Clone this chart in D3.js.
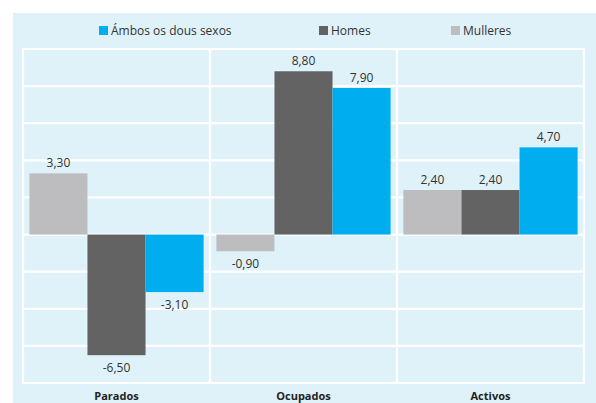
<!DOCTYPE html>
<meta charset="utf-8">
<style>
body { margin: 0; background: #fff; }
text { font-family: "Open Sans", "DejaVu Sans", sans-serif; }
</style>
<body>
<script src="https://cdn.jsdelivr.net/npm/d3@7"></script>
<script>
var categories = ["Parados", "Ocupados", "Activos"],
    series = ["Mulleres", "Homes", "Ámbos os dous sexos"],
    legendOrder = ["Ámbos os dous sexos", "Homes", "Mulleres"],
    mulleres = [3.30, -0.90, 2.40],
    homes = [-6.50, 8.80, 2.40],
    ambos = [-3.10, 7.90, 4.70],
    yTicks = [-8, -6, -4, -2, 0, 2, 4, 6, 8, 10];

var colors = {"Ámbos os dous sexos": "#00aeef", "Homes": "#636363", "Mulleres": "#bdbdc0"};
var values = {"Mulleres": mulleres, "Homes": homes, "Ámbos os dous sexos": ambos};

var width = 596, height = 403;
var plot = {left: 23, right: 584, top: 49, bottom: 383};

var svg = d3.select("body").append("svg")
    .attr("width", width)
    .attr("height", height);

// panel background
svg.append("rect")
    .attr("x", 13).attr("y", 13)
    .attr("width", width - 13).attr("height", height - 13)
    .attr("fill", "#dff2fa");

var x = d3.scaleBand().domain(categories).range([plot.left, plot.right]).padding(0);
var xs = d3.scaleBand().domain(series).range([0, x.bandwidth()]).paddingInner(0).paddingOuter(0.11);
var y = d3.scaleLinear().domain([-8, 10]).range([plot.bottom, plot.top]);

// grid
var grid = svg.append("g").attr("stroke", "#fff").attr("stroke-width", 2.2);
grid.selectAll("line.h").data(yTicks)
    .enter().append("line")
    .attr("x1", plot.left).attr("x2", plot.right)
    .attr("y1", function(d) { return y(d); })
    .attr("y2", function(d) { return y(d); });
grid.selectAll("line.v").data(categories.concat(["end"]))
    .enter().append("line")
    .attr("x1", function(d) { return d == "end" ? plot.right : x(d); })
    .attr("x2", function(d) { return d == "end" ? plot.right : x(d); })
    .attr("y1", plot.top - 1.1).attr("y2", plot.bottom + 1.1);

// bars
var rows = [];
categories.forEach(function(c, i) {
    series.forEach(function(s) {
        rows.push({cat: c, ser: s, v: values[s][i]});
    });
});

var bars = svg.append("g");
bars.selectAll("rect").data(rows)
    .enter().append("rect")
    .attr("x", function(d) { return x(d.cat) + xs(d.ser); })
    .attr("width", xs.bandwidth())
    .attr("y", function(d) { return y(Math.max(0, d.v)); })
    .attr("height", function(d) { return Math.abs(y(d.v) - y(0)); })
    .attr("fill", function(d) { return colors[d.ser]; });

var fmt = function(v) { return v.toFixed(2).replace(".", ","); };
bars.selectAll("text").data(rows)
    .enter().append("text")
    .attr("x", function(d) { return x(d.cat) + xs(d.ser) + xs.bandwidth() / 2; })
    .attr("y", function(d) { return d.v >= 0 ? y(d.v) - 6 : y(d.v) + 17; })
    .attr("text-anchor", "middle")
    .attr("font-size", 12)
    .attr("fill", "#333")
    .text(function(d) { return fmt(d.v); });

// category labels
svg.append("g").selectAll("text").data(categories)
    .enter().append("text")
    .attr("x", function(d) { return x(d) + x.bandwidth() / 2; })
    .attr("y", 400)
    .attr("text-anchor", "middle")
    .attr("font-size", 11)
    .attr("font-weight", "bold")
    .attr("fill", "#222")
    .text(function(d) { return d; });

// legend
var legX = [99, 319, 451];
var leg = svg.append("g").selectAll("g").data(legendOrder)
    .enter().append("g")
    .attr("transform", function(d, i) { return "translate(" + legX[i] + ",26)"; });
leg.append("rect")
    .attr("width", 9).attr("height", 9)
    .attr("fill", function(d) { return colors[d]; });
leg.append("text")
    .attr("x", 12).attr("y", 8.5)
    .attr("font-size", 12)
    .attr("fill", "#333")
    .text(function(d) { return d; });
</script>
